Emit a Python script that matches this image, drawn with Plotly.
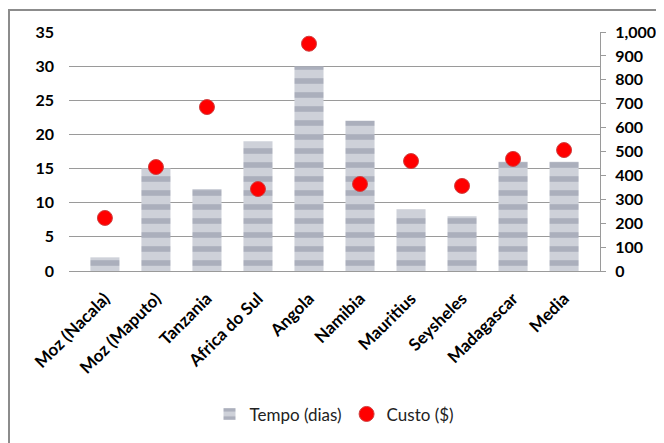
import plotly.graph_objects as go

categories = ["Moz (Nacala)", "Moz (Maputo)", "Tanzania", "Africa do Sul", "Angola",
              "Namibia", "Mauritius", "Seysheles", "Madagascar", "Media"]
tempo_dias = [2, 15, 12, 19, 30, 22, 9, 8, 16, 16]
custo = [222, 435, 686, 343, 951, 364, 460, 356, 469, 506]
left_ticks = [0, 5, 10, 15, 20, 25, 30, 35]
right_ticks = [0, 100, 200, 300, 400, 500, 600, 700, 800, 900, 1000]

FONT = "Lato"

fig = go.Figure()
fig.add_trace(go.Bar(
    x=categories, y=tempo_dias, name="Tempo (dias)",
    marker=dict(color="#B4B8C4", line=dict(width=0),
                pattern=dict(shape="-", fgcolor="#878DA0", bgcolor="#CED1D9",
                             size=14, solidity=0.4)),
    yaxis="y",
))
fig.add_trace(go.Scatter(
    x=categories, y=custo, name="Custo ($)", mode="markers",
    marker=dict(color="#FF0000", size=15, line=dict(color="#D04040", width=1)),
    yaxis="y2",
))

# page body has an 8px margin, so the figure is sized/offset to compensate
fig.update_layout(
    width=656, height=435,
    margin=dict(l=61, r=64, t=24, b=172, autoexpand=False),
    paper_bgcolor="white", plot_bgcolor="white",
    font=dict(family=FONT, size=14, color="black"),
    bargap=0.43,
    showlegend=True,
    legend=dict(orientation="h", x=0.5, xanchor="center", y=-0.6, yanchor="middle",
                font=dict(family=FONT, size=17, color="#222"), itemwidth=30),
    xaxis=dict(tickangle=-45, tickfont=dict(family=FONT, size=17, weight="bold"),
               showline=True, linecolor="#9A9A9A", linewidth=1, ticks="",
               ticklabelstandoff=10,
               showgrid=False, automargin=False),
    yaxis=dict(range=[0, 35], tickvals=left_ticks, showgrid=True, gridcolor="#9A9A9A",
               gridwidth=1, zeroline=False, showline=False, ticks="", automargin=False,
               ticklabelstandoff=14,
               tickfont=dict(family=FONT, size=16, weight="bold")),
    yaxis2=dict(range=[0, 1000], tickvals=right_ticks, overlaying="y", side="right",
                tickformat=",", showgrid=False, zeroline=False, showline=True,
                linecolor="#9A9A9A", ticks="outside", ticklen=5, tickcolor="#9A9A9A",
                automargin=False, ticklabelstandoff=6,
                tickfont=dict(family=FONT, size=16, weight="bold")),
    shapes=[dict(type="rect", xref="paper", yref="paper", x0=-0.113, x1=1.2,
                 y0=-1.8, y1=1.092, line=dict(color="#8C8C8C", width=2),
                 fillcolor="rgba(0,0,0,0)", layer="below")],
)

fig.write_html("out.html")
